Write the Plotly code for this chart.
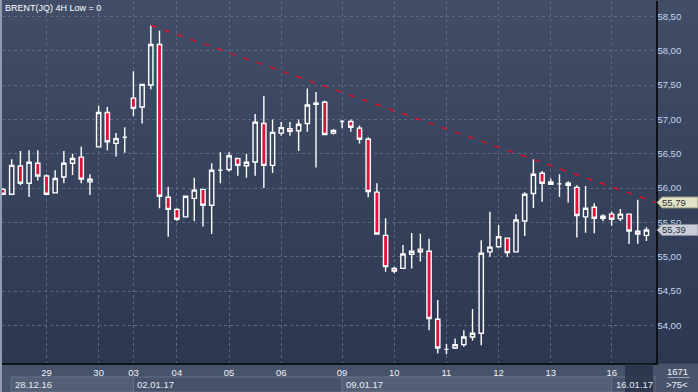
import plotly.graph_objects as go

# ---------------- data ----------------
title_text = "BRENT(JQ) 4H Low = 0"
day_ticks = [5, 11, 15, 20, 26, 32, 39, 45, 51, 57, 63, 70]
day_labels = ['29', '30', '03', '04', '05', '06', '09', '10', '11', '12', '13', '16']
price_ticks = [54.0, 54.5, 55.0, 55.5, 56.0, 56.5, 57.0, 57.5, 58.0, 58.5]
week_starts = [0.92, 15, 39, 70]
week_labels = ['28.12.16', '02.01.17', '09.01.17', '16.01.17']
bar_count_text = "1671"
zoom_text = ">75<"

opens = [55.98, 55.91, 56.32, 56.07, 56.36, 56.175, 55.93, 56.16, 56.36, 56.45,
         56.09, 56.60, 57.10, 56.65, 56.74, 57.31, 57.18, 57.50, 58.09, 55.865,
         55.69, 55.58, 55.85, 55.98, 55.75, 56.26, 56.27, 56.43, 56.325, 56.38,
         56.94, 56.33, 56.80, 56.865, 56.835, 56.94, 57.22, 57.25, 56.80, 56.97,
         56.97, 56.87, 56.71, 55.94, 55.31, 54.83, 54.83, 55.035, 55.11, 55.08,
         54.09, 53.65, 53.67, 53.72, 53.83, 53.885, 55.07, 55.146, 55.27, 55.07,
         55.52, 55.92, 56.215, 56.055, 56.06, 56.07, 56.01, 55.58, 55.72, 55.56,
         55.62, 55.555, 55.62, 55.37, 55.31]
highs = [56.00, 56.42, 56.54, 56.55, 56.55, 56.20, 56.26, 56.54, 56.50, 56.60,
         56.20, 57.20, 57.18, 56.80, 56.885, 57.70, 57.51, 58.37, 58.29, 56.02,
         55.705, 55.88, 56.15, 55.98, 56.36, 56.52, 56.52, 56.43, 56.50, 57.08,
         57.34, 57.00, 56.96, 56.96, 57.00, 57.45, 57.40, 57.27, 56.86, 56.99,
         57.00, 56.91, 56.74, 56.07, 55.56, 54.855, 55.17, 55.345, 55.335, 55.26,
         54.37, 53.73, 53.81, 53.93, 54.24, 55.24, 55.655, 55.46, 55.27, 55.62,
         55.94, 56.42, 56.25, 56.14, 56.20, 56.10, 56.04, 56.03, 55.78, 55.62,
         55.66, 55.695, 55.62, 55.83, 55.43]
lows = [55.90, 55.91, 56.04, 55.87, 56.11, 55.91, 55.93, 56.07, 56.19, 56.07,
        55.90, 56.60, 56.55, 56.46, 56.515, 57.05, 56.94, 57.44, 55.705, 55.29,
        55.52, 55.58, 55.52, 55.44, 55.33, 56.07, 56.24, 56.18, 56.15, 56.18,
        56.00, 56.22, 56.76, 56.76, 56.54, 56.82, 56.30, 56.78, 56.78, 56.87,
        56.82, 56.65, 55.865, 55.32, 54.78, 54.76, 54.82, 54.83, 54.93, 53.93,
        53.59, 53.58, 53.655, 53.69, 53.78, 53.71, 55.00, 55.14, 55.00, 55.07,
        55.30, 55.71, 55.80, 56.045, 55.87, 55.79, 55.28, 55.35, 55.34, 55.52,
        55.45, 55.52, 55.185, 55.19, 55.23]
closes = [55.91, 56.33, 56.07, 56.375, 56.175, 55.91, 56.14, 56.36, 56.43, 56.13,
          56.13, 57.10, 56.675, 56.72, 56.74, 57.16, 57.51, 58.09, 55.88, 55.69,
          55.545, 55.88, 55.97, 55.75, 56.26, 56.26, 56.47, 56.33, 56.375, 56.96,
          56.33, 56.81, 56.88, 56.825, 56.93, 57.21, 57.235, 56.78, 56.84, 56.97,
          56.885, 56.71, 55.95, 55.33, 54.855, 54.79, 55.04, 55.08, 55.07, 54.10,
          53.67, 53.65, 53.72, 53.83, 53.885, 55.05, 55.14, 55.29, 55.06, 55.535,
          55.91, 56.20, 56.07, 56.09, 56.06, 56.04, 55.60, 55.705, 55.56, 55.59,
          55.545, 55.62, 55.375, 55.33, 55.39]
trend_x = [17, 75.1]
trend_y = [58.37, 55.79]

# ---------------- styling ----------------
W, H = 698, 392
ML, MR, MT, MB = 2, 42, 1, 29
PW, PH = W - ML - MR, H - MT - MB
X_RANGE = [-0.115, 75.1]
Y_RANGE = [53.452, 58.724]
FONT = "Liberation Sans, Arial, sans-serif"
RED = "#dc143c"
BAND = "#47536a"

x_idx = list(range(len(opens)))

fig = go.Figure()
fig.add_trace(go.Candlestick(
    x=x_idx, open=opens, high=highs, low=lows, close=closes,
    increasing=dict(line=dict(color="#ffffff", width=1.4), fillcolor="rgba(0,0,0,0)"),
    decreasing=dict(line=dict(color="#ffffff", width=1.4), fillcolor=RED),
    whiskerwidth=0, hoverinfo="skip", showlegend=False,
))
fig.add_trace(go.Scatter(
    x=trend_x, y=trend_y, mode="lines",
    line=dict(color="#d8102a", width=1.5, dash="6px,8px"),
    hoverinfo="skip", showlegend=False,
))

shapes = []
# gradient background (plot area + right axis column)
top_c = (66, 78, 104)
bot_c = (44, 55, 81)
N = 73
px_top, px_bot = 0.0, MT + PH
for k in range(N):
    t = k / (N - 1)
    c = tuple(int(round(top_c[j] + (bot_c[j] - top_c[j]) * t)) for j in range(3))
    y0p = px_top + (px_bot - px_top) * k / N
    y1p = px_top + (px_bot - px_top) * (k + 1) / N + 0.5
    shapes.append(dict(
        type="rect", xref="paper", yref="paper", layer="below",
        x0=(0 - ML) / PW, x1=(W - ML) / PW,
        y0=(MT + PH - y1p) / PH, y1=(MT + PH - y0p) / PH,
        fillcolor="rgb(%d,%d,%d)" % c, line=dict(width=0),
    ))

# week boxes on the date row
for k, (xs, lab) in enumerate(zip(week_starts, week_labels)):
    xe = week_starts[k + 1] if k + 1 < len(week_starts) else X_RANGE[1]
    fill = "#535f77" if k % 2 == 0 else BAND
    shapes.append(dict(
        type="rect", xref="x", yref="paper", ysizemode="pixel", yanchor=0,
        x0=xs, x1=xe, y0=-14, y1=-29, fillcolor=fill,
        line=dict(color="#66728a", width=1), layer="above",
    ))
# dark overlay at right end of the date row
shapes.append(dict(
    type="rect", xref="paper", yref="paper", xsizemode="pixel", xanchor=1,
    ysizemode="pixel", yanchor=0, x0=-31, x1=-3, y0=-1, y1=-29,
    fillcolor="rgba(36,46,70,0.75)", line=dict(width=0), layer="above",
))
# left frame strip
shapes.append(dict(
    type="rect", xref="paper", yref="paper", xsizemode="pixel", xanchor=0,
    x0=-2, x1=0, y0=-0.1, y1=1.01, fillcolor="#8e9bb2", line=dict(width=0), layer="above",
))
# separator in corner box
shapes.append(dict(
    type="line", xref="paper", yref="paper", xsizemode="pixel", xanchor=1,
    ysizemode="pixel", yanchor=0, x0=12, x1=34, y0=-14.5, y1=-14.5,
    line=dict(color="#9aa6bc", width=1), layer="above",
))

# price flags on the right axis
def flag(yval, fill, border):
    shapes.append(dict(
        type="path", xref="paper", yref="y", xsizemode="pixel", xanchor=1,
        ysizemode="pixel", yanchor=yval,
        path="M 1,0 L 6,5.5 L 42,5.5 L 42,-5.5 L 6,-5.5 Z",
        fillcolor=fill, line=dict(color=border, width=1), layer="above",
    ))

flag(trend_y[-1], "#e2e3c6", "#8f9178")
flag(closes[-1], "#c9cdd8", "#8a909e")

annotations = [
    dict(text=title_text, xref="paper", yref="paper", x=0, y=1, xanchor="left",
         yanchor="top", xshift=1, yshift=0, showarrow=False,
         font=dict(family=FONT, size=9, color="#ffffff")),
    dict(text=bar_count_text, xref="paper", yref="paper", x=1, y=0, xanchor="center",
         yanchor="middle", xshift=21, yshift=-8, showarrow=False,
         font=dict(family=FONT, size=9.5, color="#f0f3f8")),
    dict(text=zoom_text, xref="paper", yref="paper", x=1, y=0, xanchor="center",
         yanchor="middle", xshift=21, yshift=-21, showarrow=False,
         font=dict(family=FONT, size=9.5, color="#f0f3f8")),
]
for xs, lab in zip(week_starts, week_labels):
    annotations.append(dict(
        text=lab, xref="x", yref="paper", x=xs, y=0, xanchor="left", yanchor="middle",
        xshift=2, yshift=-21.5, showarrow=False,
        font=dict(family=FONT, size=9.5, color="#e6ebf2"),
    ))
for val, col in ((trend_y[-1], "#2a3040"), (closes[-1], "#2a3040")):
    annotations.append(dict(
        text=("%.2f" % val).replace(".", ","), xref="paper", yref="y", x=1, y=val,
        xanchor="left", yanchor="middle", xshift=4, showarrow=False,
        font=dict(family=FONT, size=9.5, color=col),
    ))

fig.update_layout(
    width=W, height=H,
    margin=dict(l=ML, r=MR, t=MT, b=MB, pad=0),
    paper_bgcolor=BAND, plot_bgcolor="rgba(0,0,0,0)",
    separators=", ",
    showlegend=False, hovermode=False,
    shapes=shapes, annotations=annotations,
    xaxis=dict(
        range=X_RANGE, rangeslider=dict(visible=False),
        tickmode="array", tickvals=day_ticks, ticktext=day_labels,
        showgrid=True, gridcolor="#5c6984", griddash="3px,3px", gridwidth=1,
        zeroline=False, showline=True, linecolor="#0d1118", linewidth=1.5,
        ticks="", tickfont=dict(family=FONT, size=9.5, color="#eef2f8"),
        fixedrange=True,
    ),
    yaxis=dict(
        range=Y_RANGE, side="right", tickmode="array", tickvals=price_ticks,
        tickformat=".2f",
        showgrid=True, gridcolor="#5c6984", griddash="3px,3px", gridwidth=1,
        zeroline=False, showline=True, linecolor="#0d1118", linewidth=1.5,
        ticks="", ticklabelstandoff=-2,
        tickfont=dict(family=FONT, size=9.5, color="#c3d5f2"),
        fixedrange=True,
    ),
)

fig.write_html(
    "out.html",
    config=dict(displayModeBar=False, staticPlot=True),
    post_script="document.body.style.margin='0';document.body.style.overflow='hidden';",
)
